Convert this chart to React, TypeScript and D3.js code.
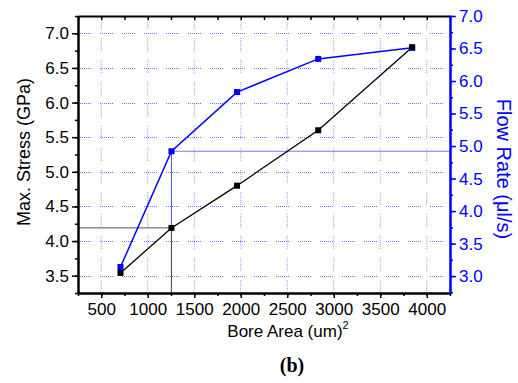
//@ts-nocheck
import React, { useRef, useEffect } from 'react'
import * as d3 from 'd3'

const boreArea = [707, 1255, 1960, 2833, 3843]
const maxStress = [3.54, 4.19, 4.8, 5.6, 6.8]
const flowRate = [3.14, 4.92, 5.83, 6.34, 6.51]
const xTicks = [500, 1000, 1500, 2000, 2500, 3000, 3500, 4000]
const stressTicks = [3.5, 4.0, 4.5, 5.0, 5.5, 6.0, 6.5, 7.0]
const flowTicks = [3.0, 3.5, 4.0, 4.5, 5.0, 5.5, 6.0, 6.5, 7.0]
const dropIndex = 1

const App = () => {
  const node = useRef(null)

  useEffect(() => {
    const width = 518
    const height = 383
    const margin = { top: 16, right: 68, bottom: 90, left: 78 }
    const font = 'Arial, "Liberation Sans", sans-serif'

    const svg = d3.select(node.current)
    svg.selectAll('*').remove()
    svg.attr('width', width).attr('height', height)

    const x = d3.scaleLinear().domain([250, 4250]).range([margin.left, width - margin.right])
    const yL = d3.scaleLinear().domain([3.25, 7.25]).range([height - margin.bottom, margin.top])
    const yR = d3.scaleLinear().domain([2.74, 7.0]).range([height - margin.bottom, margin.top])

    const x0 = margin.left
    const x1 = width - margin.right
    const y0 = height - margin.bottom
    const y1 = margin.top
    const dash = '1 1 1 1 1 1 1 1 1 1 1 1 1 9'

    // grid
    svg
      .append('g')
      .selectAll('line')
      .data(xTicks)
      .join('line')
      .attr('x1', (d) => x(d))
      .attr('x2', (d) => x(d))
      .attr('y1', y0)
      .attr('y2', y1)
      .attr('stroke', '#9c9cff')
      .attr('stroke-width', 1)
      .attr('stroke-dasharray', dash)

    svg
      .append('g')
      .selectAll('line')
      .data(stressTicks)
      .join('line')
      .attr('x1', x0)
      .attr('x2', x1)
      .attr('y1', (d) => Math.round(yL(d)) + 0.5)
      .attr('y2', (d) => Math.round(yL(d)) + 0.5)
      .attr('stroke', '#7272ff')
      .attr('stroke-width', 1)
      .attr('stroke-dasharray', dash)

    // drop lines
    const bx = x(boreArea[dropIndex])
    svg
      .append('line')
      .attr('x1', bx)
      .attr('x2', bx)
      .attr('y1', yR(flowRate[dropIndex]))
      .attr('y2', y0)
      .attr('stroke', '#5050ff')
      .attr('stroke-width', 1)
    svg
      .append('line')
      .attr('x1', bx)
      .attr('x2', x1)
      .attr('y1', yR(flowRate[dropIndex]))
      .attr('y2', yR(flowRate[dropIndex]))
      .attr('stroke', '#7878ff')
      .attr('stroke-width', 1.2)
    svg
      .append('line')
      .attr('x1', bx)
      .attr('x2', bx)
      .attr('y1', yL(maxStress[dropIndex]))
      .attr('y2', y0)
      .attr('stroke', '#555')
      .attr('stroke-width', 1)
    svg
      .append('line')
      .attr('x1', x0)
      .attr('x2', bx)
      .attr('y1', yL(maxStress[dropIndex]))
      .attr('y2', yL(maxStress[dropIndex]))
      .attr('stroke', '#555')
      .attr('stroke-width', 1)

    // series
    const stressData = boreArea.map((a, i) => [a, maxStress[i]])
    const flowData = boreArea.map((a, i) => [a, flowRate[i]])

    svg
      .append('path')
      .attr('d', d3.line().x((d) => x(d[0])).y((d) => yL(d[1]))(stressData))
      .attr('fill', 'none')
      .attr('stroke', '#000')
      .attr('stroke-width', 1.3)
    svg
      .append('path')
      .attr('d', d3.line().x((d) => x(d[0])).y((d) => yR(d[1]))(flowData))
      .attr('fill', 'none')
      .attr('stroke', '#0000ff')
      .attr('stroke-width', 1.5)

    const ms = 6
    svg
      .append('g')
      .selectAll('rect')
      .data(flowData)
      .join('rect')
      .attr('x', (d) => x(d[0]) - ms / 2)
      .attr('y', (d) => yR(d[1]) - ms / 2)
      .attr('width', ms)
      .attr('height', ms)
      .attr('fill', '#0000ff')
    svg
      .append('g')
      .selectAll('rect')
      .data(stressData)
      .join('rect')
      .attr('x', (d) => x(d[0]) - ms / 2)
      .attr('y', (d) => yL(d[1]) - ms / 2)
      .attr('width', ms)
      .attr('height', ms)
      .attr('fill', '#000')

    // axes
    const styleAxis = (g, color) =>
      g
        .call((g) => g.select('.domain').attr('stroke', color).attr('stroke-width', 2))
        .call((g) => g.selectAll('.tick line').attr('stroke', color).attr('stroke-width', 1.5))
        .call((g) => g.selectAll('.tick text').attr('fill', color).attr('font-family', font).attr('font-size', 17))

    const minorX = d3.range(250, 4251, 250)
    svg
      .append('g')
      .attr('transform', `translate(0,${y0})`)
      .call(d3.axisBottom(x).tickValues(minorX).tickSize(3).tickFormat('').tickSizeOuter(0))
      .call((g) => styleAxis(g, '#000'))
    svg
      .append('g')
      .attr('transform', `translate(0,${y0})`)
      .call(d3.axisBottom(x).tickValues(xTicks).tickSize(5).tickPadding(5).tickFormat(d3.format('d')).tickSizeOuter(0))
      .call((g) => styleAxis(g, '#000'))

    svg
      .append('g')
      .attr('transform', `translate(0,${y1})`)
      .call(d3.axisBottom(x).tickValues(minorX).tickSize(4).tickFormat('').tickSizeOuter(0))
      .call((g) => styleAxis(g, '#000'))

    svg
      .append('g')
      .attr('transform', `translate(${x0},0)`)
      .call(d3.axisLeft(yL).tickValues(d3.range(3.25, 7.26, 0.25)).tickSize(3).tickFormat('').tickSizeOuter(0))
      .call((g) => styleAxis(g, '#000'))
    svg
      .append('g')
      .attr('transform', `translate(${x0},0)`)
      .call(d3.axisLeft(yL).tickValues(stressTicks).tickSize(6).tickPadding(3).tickFormat(d3.format('.1f')).tickSizeOuter(0))
      .call((g) => styleAxis(g, '#000'))

    svg
      .append('g')
      .attr('transform', `translate(${x1},0)`)
      .call(d3.axisRight(yR).tickValues(d3.range(2.75, 7.01, 0.25)).tickSize(3).tickFormat('').tickSizeOuter(0))
      .call((g) => styleAxis(g, '#0000ff'))
    svg
      .append('g')
      .attr('transform', `translate(${x1},0)`)
      .call(d3.axisRight(yR).tickValues(flowTicks).tickSize(6).tickPadding(3).tickFormat(d3.format('.1f')).tickSizeOuter(0))
      .call((g) => styleAxis(g, '#0000ff'))

    // titles
    const xt = svg
      .append('text')
      .attr('x', 288)
      .attr('y', 337)
      .attr('text-anchor', 'middle')
      .attr('font-family', font)
      .attr('font-size', 17)
      .attr('fill', '#000')
    xt.append('tspan').text('Bore Area (um)')
    xt.append('tspan').attr('font-size', 11).attr('dy', -8).text('2')

    svg
      .append('text')
      .attr('transform', `translate(30,152) rotate(-90)`)
      .attr('text-anchor', 'middle')
      .attr('font-family', font)
      .attr('font-size', 18)
      .attr('fill', '#000')
      .text('Max. Stress (GPa)')

    svg
      .append('text')
      .attr('transform', `translate(497,169) rotate(90)`)
      .attr('text-anchor', 'middle')
      .attr('font-family', font)
      .attr('font-size', 20)
      .attr('fill', '#0000ff')
      .text('Flow Rate (μl/s)')

    svg
      .append('text')
      .attr('x', 292)
      .attr('y', 372)
      .attr('text-anchor', 'middle')
      .attr('font-family', '"Liberation Serif", "Times New Roman", serif')
      .attr('font-weight', 'bold')
      .attr('font-size', 20)
      .attr('fill', '#000')
      .text('(b)')
  }, [node])

  return <svg ref={node} style={{ position: 'absolute', left: 0, top: 0, background: '#fff' }}></svg>
}

export default App
